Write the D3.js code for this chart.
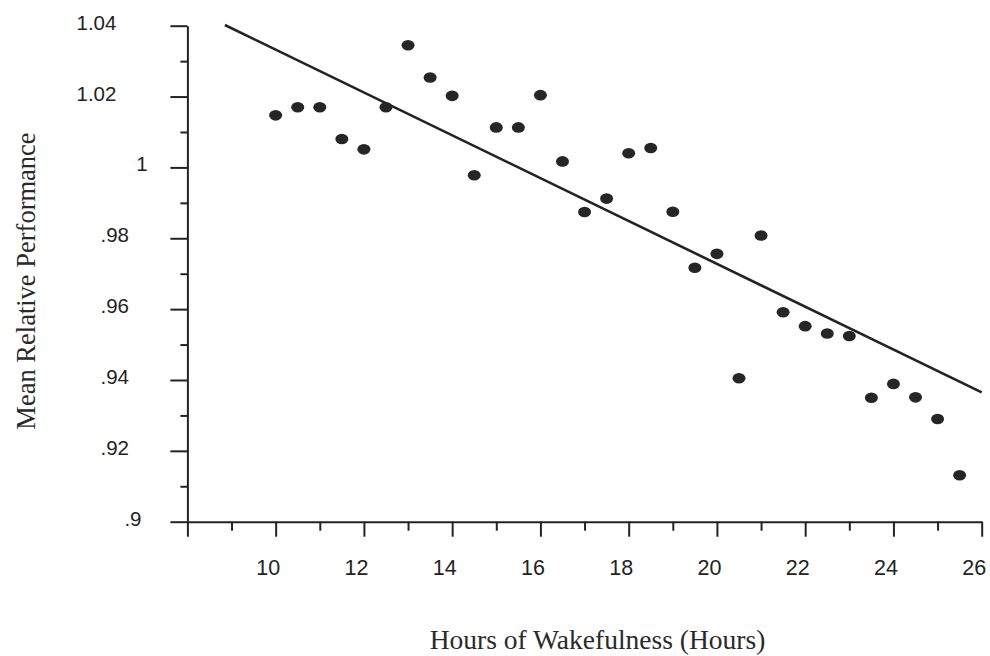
<!DOCTYPE html>
<html><head><meta charset="utf-8">
<script src="https://cdn.jsdelivr.net/npm/d3@7"></script>
<style>
body{margin:0;background:#fff}
svg{display:block}
</style>
</head><body>
<svg id="chart" width="990" height="656"></svg>
<script>
// ---- data ----
const hours = [10,10.5,11,11.5,12,12.5,13,13.5,14,14.5,15,15.5,16,16.5,17,17.5,18,18.5,19,19.5,20,20.5,21,21.5,22,22.5,23,23.5,24,24.5,25,25.5];
const performance = [1.0147,1.0170,1.0170,1.0080,1.0051,1.0170,1.0345,1.0254,1.0202,0.9978,1.0113,1.0113,1.0204,1.0017,0.9874,0.9912,1.0040,1.0055,0.9875,0.9717,0.9756,0.9405,0.9808,0.9591,0.9552,0.9531,0.9524,0.9350,0.9389,0.9351,0.9290,0.9131];
const fitHours = [8.85, 26];
const fitPerformance = [1.0402, 0.9365];
const xMajorTicks = [8,10,12,14,16,18,20,22,24,26];
const xTickLabels = ["","10","12","14","16","18","20","22","24","26"];
const xMinorTicks = [9,11,13,15,17,19,21,23,25];
const yMajorTicks = [0.90,0.92,0.94,0.96,0.98,1.00,1.02,1.04];
const yTickLabels = [".9",".92",".94",".96",".98","1","1.02","1.04"];
const yMinorTicks = [0.91,0.93,0.95,0.97,0.99,1.01,1.03];
const xTitle = "Hours of Wakefulness (Hours)";
const yTitle = "Mean Relative Performance";

// ---- layout ----
const svg = d3.select("#chart");
const x = d3.scaleLinear().domain([8,26]).range([187.4,981.7]);
const y = d3.scaleLinear().domain([0.9,1.04]).range([521.7,25.7]);
const ink = "#232323";
const sans = "'Liberation Sans', Arial, sans-serif";
const serif = "'Liberation Serif', 'Times New Roman', serif";

svg.append("rect").attr("width",990).attr("height",656).attr("fill","#fff");

// x axis
const gx = svg.append("g").attr("transform",`translate(0,${y(0.9)})`);
gx.call(d3.axisBottom(x).tickValues(xMajorTicks).tickSize(15).tickSizeOuter(0)
  .tickFormat((d,i)=>xTickLabels[i]));
const gxm = svg.append("g").attr("transform",`translate(0,${y(0.9)})`);
gxm.call(d3.axisBottom(x).tickValues(xMinorTicks).tickSize(9).tickSizeOuter(0).tickFormat(""));
gxm.select(".domain").remove();

// y axis
const gy = svg.append("g").attr("transform",`translate(${x(8)},0)`);
gy.call(d3.axisLeft(y).tickValues(yMajorTicks).tickSize(17).tickSizeOuter(0)
  .tickFormat((d,i)=>yTickLabels[i]));
const gym = svg.append("g").attr("transform",`translate(${x(8)},0)`);
gym.call(d3.axisLeft(y).tickValues(yMinorTicks).tickSize(7).tickSizeOuter(0).tickFormat(""));
gym.select(".domain").remove();

svg.selectAll(".domain, .tick line").attr("stroke",ink).attr("stroke-width",2);

gx.selectAll(".tick text")
  .attr("font-family",sans).attr("font-size",21.5).attr("fill",ink)
  .attr("y",575-521.7).attr("dy",0).attr("x",-8);

gy.selectAll(".tick text")
  .attr("font-family",sans).attr("font-size",20.5).attr("fill",ink)
  .attr("text-anchor","start").attr("dy",0).attr("y",3.5)
  .each(function(){
    const w = this.getComputedTextLength();
    d3.select(this).attr("x",(160.3 - x(8)) - 2.1*w);
  });

// regression line
const fit = fitHours.map((h,i)=>[h,fitPerformance[i]]);
svg.append("path")
  .attr("d", d3.line().x(d=>x(d[0])).y(d=>y(d[1]))(fit))
  .attr("fill","none").attr("stroke",ink).attr("stroke-width",2.6);

// points
svg.append("g").selectAll("ellipse")
  .data(hours.map((h,i)=>({h, p:performance[i]})))
  .join("ellipse")
  .attr("cx",d=>x(d.h)).attr("cy",d=>y(d.p))
  .attr("rx",6.5).attr("ry",5.3)
  .attr("fill","#262626");

// titles
svg.append("text").text(xTitle)
  .attr("x",597.5).attr("y",649).attr("text-anchor","middle")
  .attr("font-family",serif).attr("font-size",27.5).attr("fill","#2a2a2a");
svg.append("text").text(yTitle)
  .attr("transform","translate(35,281) rotate(-90)").attr("text-anchor","middle")
  .attr("font-family",serif).attr("font-size",26.5).attr("fill","#2a2a2a");
</script>
</body></html>
